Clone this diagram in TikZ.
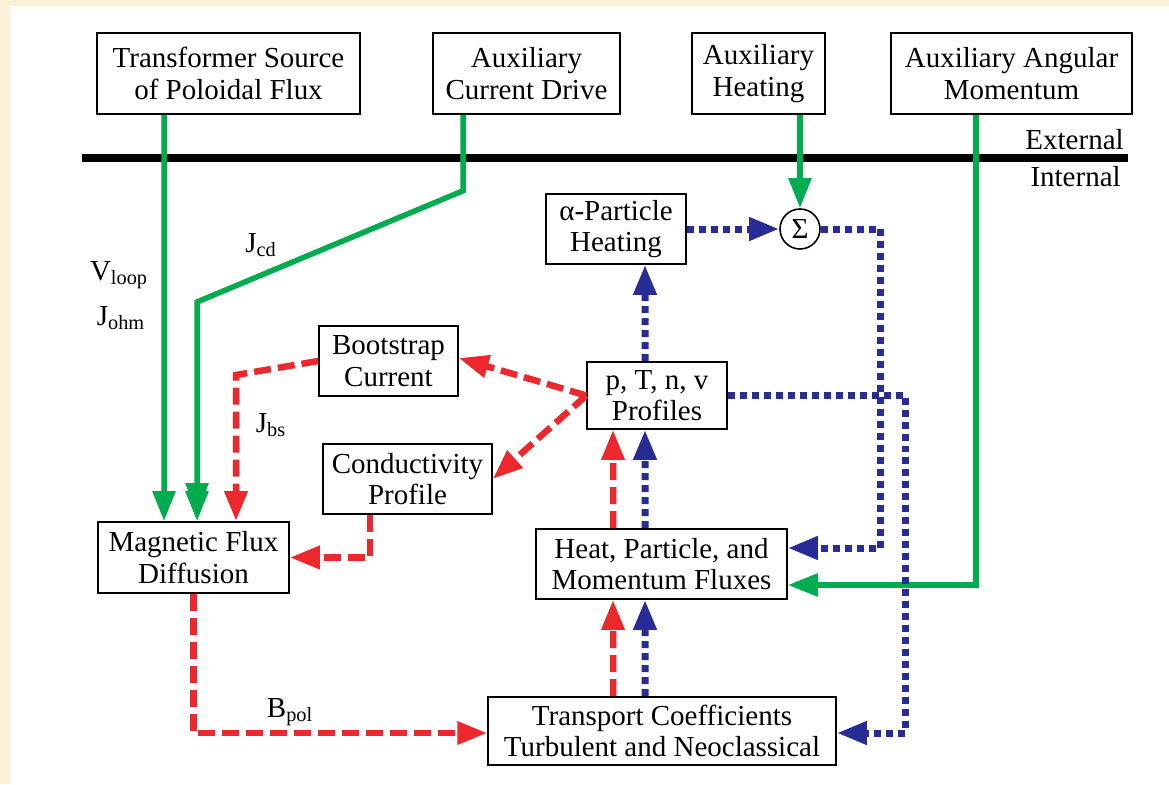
\documentclass[tikz,border=0pt]{standalone}
\usepackage{fontspec}
\setmainfont{Liberation Serif}
\usetikzlibrary{
    arrows.meta
}
\definecolor{cgreen}{RGB}{0,172,78}
\definecolor{cred}{RGB}{236,40,44}
\definecolor{cblue}{RGB}{40,44,150}
\definecolor{ccream}{RGB}{251,240,216}
\tikzset{
  box/.style={
    draw,
    line width=0.9pt,
    fill=white,
    align=center,
    inner sep=0pt,
    font=\fontsize{16.5pt}{18pt}\selectfont
  },
  lbl/.style={
    inner sep=0pt,
    font=\fontsize{16.5pt}{18pt}\selectfont
  },
  greenline/.style={cgreen, line width=0.11cm},
  redline/.style={cred, line width=0.13cm, dash pattern=on 0.34cm off 0.14cm},
  blueline/.style={cblue, line width=0.14cm, dash pattern=on 0.14cm off 0.1cm}
}

\begin{document}
\begin{tikzpicture}[x=0.02cm,y=-0.02cm,>={Triangle[length=0.6cm,width=0.44cm]}]
    % 背景
    \fill[ccream] (0,0) rectangle (1169,784);
    \fill[white] (10,6) rectangle (1169,784);

    % 外部の入力
    \node[box,minimum width=5.26cm,minimum height=1.62cm] (src) at (228.5,73.5) {Transformer Source\\of Poloidal Flux};
    \node[box,minimum width=3.74cm,minimum height=1.62cm] (cd) at (526.5,73.5) {Auxiliary\\Current Drive};
    \node[box,minimum width=2.66cm,minimum height=1.62cm] (heat) at (758.5,73.5) {Auxiliary\\Heating};
    \node[box,minimum width=4.82cm,minimum height=1.62cm] (mom) at (1011.5,73.5) {Auxiliary Angular\\Momentum};

    % 境界線
    \coordinate (bl) at (82,158);
    \coordinate (br) at (1128,158);
    \draw[line width=0.17cm] (bl) -- (br);
    \node[lbl,anchor=east] (ext) at (1124,140) {External};
    \node[lbl,anchor=east] (int) at (1121,177) {Internal};

    % 内部の箱
    \node[box,minimum width=2.8cm,minimum height=1.4cm] (alpha) at (616,229) {α-Particle\\Heating};
    \node[box,circle,minimum size=0.8cm] (sig) at (800,229) {Σ};
    \node[box,minimum width=2.8cm,minimum height=1.34cm] (prof) at (657,395.5) {p, T, n, v\\Profiles};
    \node[box,minimum width=2.78cm,minimum height=1.4cm] (boot) at (388.5,361) {Bootstrap\\Current};
    \node[box,minimum width=3.38cm,minimum height=1.4cm] (cond) at (407.5,479) {Conductivity\\Profile};
    \node[box,minimum width=3.82cm,minimum height=1.42cm] (mfd) at (193.5,557.5) {Magnetic Flux\\Diffusion};
    \node[box,minimum width=5.02cm,minimum height=1.4cm] (flux) at (661.5,564) {Heat, Particle, and\\Momentum Fluxes};
    \node[box,minimum width=6.96cm,minimum height=1.36cm] (trans) at (662,731) {Transport Coefficients\\Turbulent and Neoclassical};

    % 緑の線
    \coordinate (cdbend) at (197,302);
    \draw[greenline,->] ([xshift=-1.29cm]src.south) -- ([xshift=-0.59cm]mfd.north);
    \draw[greenline,-{Triangle[length=0.6cm,width=0.44cm,sep=-0.44cm]Triangle[length=0.6cm,width=0.44cm]}]
        ([xshift=-1.27cm]cd.south) -- ++(0,-1.52cm) -- (cdbend) -- ([xshift=0.07cm]mfd.north);
    \draw[greenline,->] (heat.south -| sig.north) -- (sig.north);
    \draw[greenline,->] ([xshift=-0.71cm]mom.south) |- ([yshift=-0.42cm]flux.east);

    % 赤の線
    \coordinate (bsbend) at (236,375);
    \draw[redline,->] (prof.west) -- ([yshift=0.06cm]boot.east);
    \draw[redline,->] (prof.west) -- (cond.east);
    \draw[redline,->] (boot.west) -- (bsbend) -- (bsbend |- mfd.north);
    \draw[redline,->] ([xshift=-0.75cm]cond.south) |- (mfd.east);
    \draw[redline,->] (mfd.south) |- ([yshift=-0.04cm]trans.west);
    \draw[redline,->] ([xshift=-0.98cm]trans.north) -- ([xshift=-0.97cm]flux.south);
    \draw[redline,->] ([xshift=-0.97cm]flux.north) -- ([xshift=-0.88cm]prof.south);

    % 青の線
    \draw[blueline,->] ([xshift=-0.34cm]trans.north) -- ([xshift=-0.33cm]flux.south);
    \draw[blueline,->] ([xshift=-0.33cm]flux.north) -- ([xshift=-0.24cm]prof.south);
    \draw[blueline,->] ([xshift=-0.24cm]prof.north) -- ([xshift=0.58cm]alpha.south);
    \draw[blueline,->] (alpha.east) -- (sig.west);
    \draw[blueline,->] (sig.east) -- ++(1.2cm,0) |- ([yshift=0.32cm]flux.east);
    \draw[blueline,->] (prof.east) -- ++(3.56cm,0) |- ([yshift=-0.04cm]trans.east);

    % ラベル
    \node[lbl] (vloop) at (119,275) {V\textsubscript{loop}};
    \node[lbl] (johm) at (121,318) {J\textsubscript{ohm}};
    \node[lbl] (jcd) at (261,245) {J\textsubscript{cd}};
    \node[lbl] (jbs) at (271,425) {J\textsubscript{bs}};
    \node[lbl] (bpol) at (290,712) {B\textsubscript{pol}};
\end{tikzpicture}
\end{document}
